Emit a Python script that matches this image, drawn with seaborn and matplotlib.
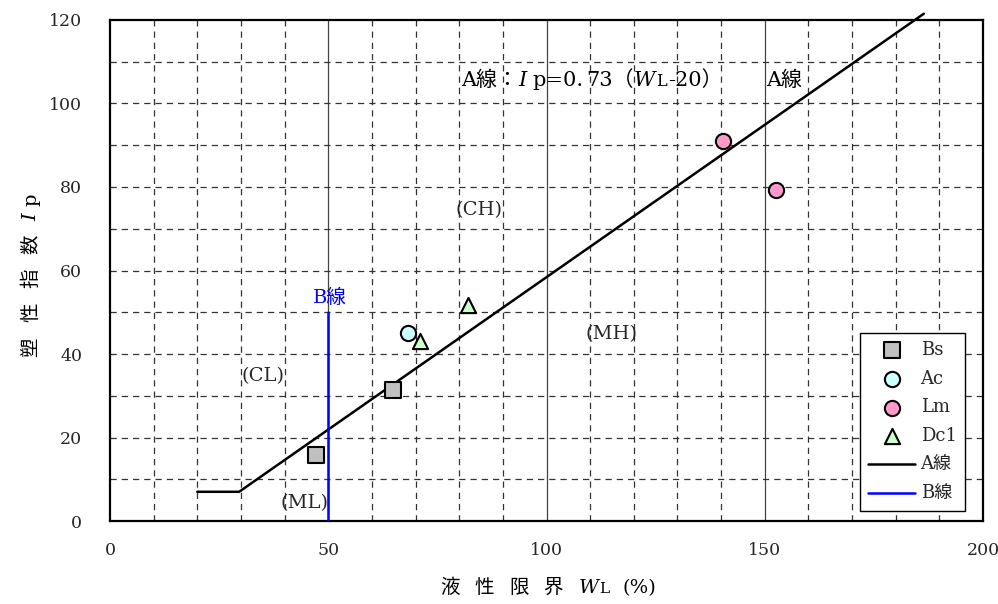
import matplotlib
matplotlib.use("Agg")
import matplotlib.pyplot as plt
from matplotlib.transforms import IdentityTransform
import seaborn as sns
import pandas as pd

# Sample data: liquid limit WL (%) and plasticity index Ip
bs_wl = [47.2, 64.9]
bs_ip = [15.8, 31.4]
ac_wl = [68.3]
ac_ip = [45.0]
lm_wl = [140.4, 152.5]
lm_ip = [91.0, 79.3]
dc1_wl = [71.1, 82.1]
dc1_ip = [43.1, 51.7]

# A-line: Ip = 0.73 (WL - 20), with a floor of Ip = 7
a_slope = 0.73
a_offset = 20
a_floor = 7
a_top = 121.5
# B-line: WL = 50
b_wl = 50
b_top = 50

x_ticks = [0, 50, 100, 150, 200]
y_ticks = [0, 20, 40, 60, 80, 100, 120]

sns.set_theme(style="white")
FAM = ["DejaVu Serif", "Noto Sans CJK JP"]
plt.rcParams["font.family"] = FAM

fig = plt.figure(figsize=(9.98, 6.04), dpi=100)
ax = fig.add_axes([0.1102, 0.1374, 0.8748, 0.8295])

# grid: dashed every 10, solid at 50/100/150
for gx in range(10, 200, 10):
    if gx % 50 == 0:
        ax.axvline(gx, color="#444444", lw=0.9, ls="-", zorder=1)
    else:
        ax.axvline(gx, color="#333333", lw=0.9, ls=(0, (5, 4)), zorder=1)
for gy in range(10, 120, 10):
    ax.axhline(gy, color="#333333", lw=0.9, ls=(0, (5, 4)), zorder=1)

# A-line vertices
x_knee = a_offset + a_floor / a_slope
x_end = a_offset + a_top / a_slope
a_df = pd.DataFrame({"WL": [a_offset, x_knee, x_end],
                     "Ip": [a_floor, a_floor, a_slope * (x_end - a_offset)]})
sns.lineplot(data=a_df, x="WL", y="Ip", color="black", lw=1.8, ax=ax,
             sort=False, estimator=None, label="A線", zorder=3, clip_on=False)
b_df = pd.DataFrame({"WL": [b_wl, b_wl], "Ip": [0, b_top]})
sns.lineplot(data=b_df, x="WL", y="Ip", color="#0000ff", lw=1.8, ax=ax,
             sort=False, estimator=None, label="B線", zorder=3)

mk = dict(s=120, edgecolor="black", linewidth=1.5, zorder=4, ax=ax)
sns.scatterplot(x=bs_wl, y=bs_ip, marker="s", color="#c0c0c0", label="Bs", **mk)
sns.scatterplot(x=ac_wl, y=ac_ip, marker="o", color="#ccffff", label="Ac", **mk)
sns.scatterplot(x=lm_wl, y=lm_ip, marker="o", color="#ff99cc", label="Lm", **mk)
sns.scatterplot(x=dc1_wl, y=dc1_ip, marker="^", color="#ccffcc", label="Dc1", **mk)

ax.set_xlim(0, 200)
ax.set_ylim(0, 120)
ax.set_xticks(x_ticks)
ax.set_yticks(y_ticks)
ax.set_xlabel("")
ax.set_ylabel("")
ax.tick_params(axis="x", labelsize=12.5, length=0, pad=15)
ax.tick_params(axis="y", labelsize=12.5, length=0, pad=20)
for s in ax.spines.values():
    s.set_color("black")
    s.set_linewidth(1.6)

renderer = fig.canvas.get_renderer()


def draw_runs(x0, y0, runs, rotation=0, color="black"):
    """Lay out text runs of mixed style end to end, starting at pixel (x0, y0)
    on the baseline. Each run is (text, fontsize, italic, gap_after_px)."""
    pos = 0.0
    for text, size, italic, gap in runs:
        if rotation == 0:
            xy = (x0 + pos, y0)
        else:
            xy = (x0, y0 + pos)
        t = fig.text(xy[0], xy[1], text, transform=IdentityTransform(),
                     fontsize=size, family=FAM, color=color,
                     style="italic" if italic else "normal",
                     rotation=rotation, rotation_mode="anchor",
                     ha="left", va="baseline", zorder=6)
        bb = t.get_window_extent(renderer)
        pos += (bb.width if rotation == 0 else bb.height) + gap


H = fig.bbox.height


def data_px(x, y):
    return ax.transData.transform((x, y))


fs = 14
# A-line equation
px, py = data_px(80.5, 104.3)
draw_runs(px, py, [("A線：", 15, False, 0), ("I", 15, True, 6),
                   ("p=0.", 15, False, 3), ("73（", 15, False, 0),
                   ("W", 15, True, 0), ("L", 11.5, False, 2),
                   ("-20）", 15, False, 0)])
px, py = data_px(150.4, 104.3)
draw_runs(px, py, [("A線", 15, False, 0)])

for label, (x, y) in {"(CH)": (84.5, 74.5), "(MH)": (115, 44.8),
                      "(CL)": (35, 34.7), "(ML)": (44.5, 4.3)}.items():
    ax.text(x, y, label, fontsize=fs, va="center", ha="center", zorder=5)
ax.text(50.3, 53.5, "B線", fontsize=fs, va="center", ha="center",
        color="#0000ff", zorder=5)

# axis titles
draw_runs(440, H - 593, [("液", 14, False, 15), ("性", 14, False, 15),
                         ("限", 14, False, 15), ("界", 14, False, 16),
                         ("W", 14, True, 0), ("L", 11, False, 13),
                         ("(%)", 14, False, 0)])
draw_runs(36, H - 357, [("塑", 14, False, 15), ("性", 14, False, 15),
                        ("指", 14, False, 15), ("数", 14, False, 13),
                        ("I", 14, True, 7), ("p", 14, False, 0)],
          rotation=90)

handles, labels = ax.get_legend_handles_labels()
order = ["Bs", "Ac", "Lm", "Dc1", "A線", "B線"]
hmap = dict(zip(labels, handles))
leg = ax.legend([hmap[k] for k in order], order, loc="lower right",
                bbox_to_anchor=(0.979, 0.02), borderaxespad=0, fontsize=13,
                frameon=True, fancybox=False, edgecolor="black",
                framealpha=1, handlelength=2.6, labelspacing=0.6,
                borderpad=0.45, handletextpad=0.3)
leg.get_frame().set_linewidth(1.0)
leg.set_zorder(10)

fig.savefig("out.png", dpi=100)
